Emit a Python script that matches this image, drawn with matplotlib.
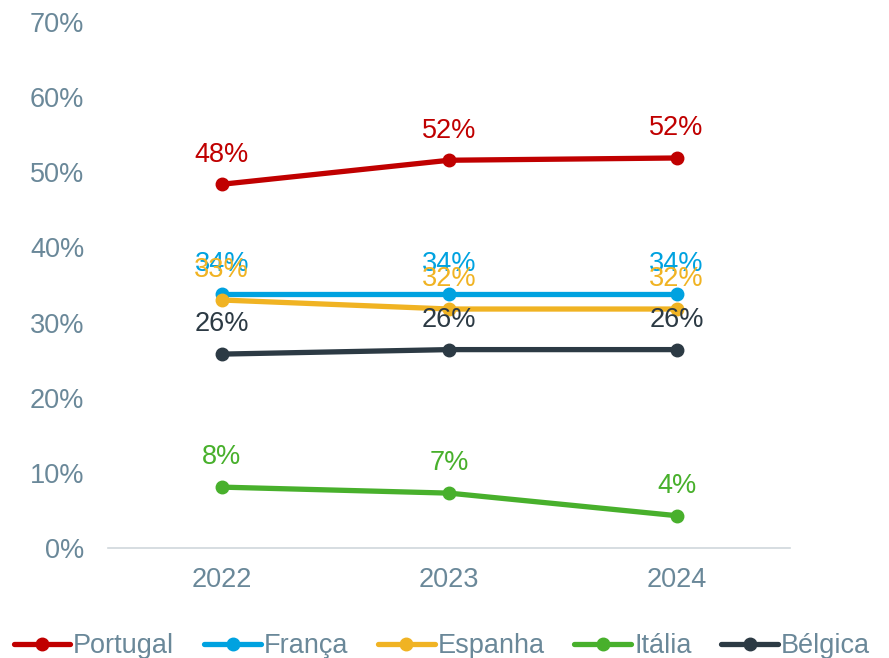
import matplotlib.pyplot as plt
from matplotlib.ticker import FuncFormatter

plt.rcParams['font.family'] = ['Liberation Sans', 'DejaVu Sans']

years = ['2022', '2023', '2024']
portugal = [48.4, 51.6, 51.9]
franca = [33.8, 33.8, 33.8]
espanha = [33.0, 31.8, 31.8]
italia = [8.1, 7.3, 4.3]
belgica = [25.8, 26.4, 26.4]

series = [
    ('Portugal', portugal, '#C00000'),
    ('França', franca, '#00A2E0'),
    ('Espanha', espanha, '#F0B323'),
    ('Itália', italia, '#48B02C'),
    ('Bélgica', belgica, '#2C3A44'),
]

tick_color = '#6A8899'
fs = 19.5

fig = plt.figure(figsize=(8.89, 6.58), dpi=100)
ax = fig.add_axes([0.1215, 0.1672, 0.7675, 0.7994])

x = list(range(len(years)))
for name, vals, color in series:
    ax.plot(x, vals, color=color, lw=3.8, marker='o', ms=9, label=name,
            solid_capstyle='round')
    for xi, v in zip(x, vals):
        ax.annotate(f'{v:.0f}%', (xi, v), xytext=(0, 12), textcoords='offset points',
                    ha='center', va='bottom', fontsize=fs, color=color)

ax.set_xlim(-0.5, 2.5)
ax.set_ylim(0, 70)
ax.set_yticks(range(0, 71, 10))
ax.yaxis.set_major_formatter(FuncFormatter(lambda v, p: f'{v:.0f}%'))
ax.set_xticks(x)
ax.set_xticklabels(years)

for side in ['top', 'right', 'left']:
    ax.spines[side].set_visible(False)
ax.spines['bottom'].set_color('#D0D7DC')
ax.spines['bottom'].set_linewidth(1.2)
ax.tick_params(axis='both', length=0, labelsize=fs, labelcolor=tick_color)
ax.tick_params(axis='y', pad=17)
ax.tick_params(axis='x', pad=14)

leg = fig.legend(loc='center', bbox_to_anchor=(0.497, 0.018), ncol=5, frameon=False,
                 fontsize=fs, handlelength=2.1, handletextpad=0.1, columnspacing=1.1,
                 borderaxespad=0, borderpad=0)
for t in leg.get_texts():
    t.set_color(tick_color)

fig.savefig('out.png', dpi=100)
